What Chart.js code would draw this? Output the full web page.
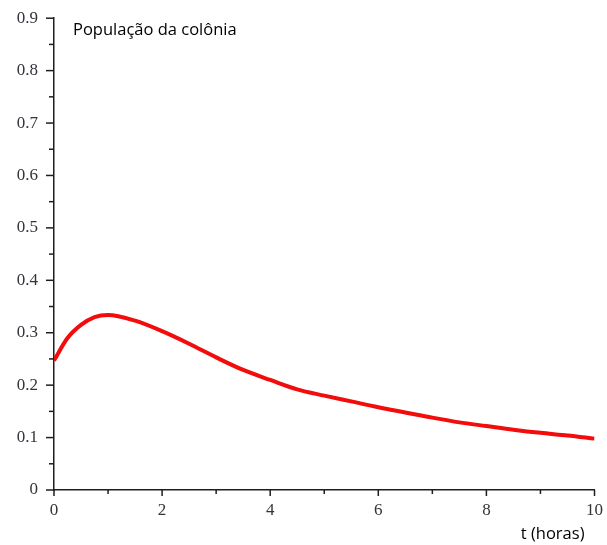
<!DOCTYPE html>
<html>
<head>
<meta charset="utf-8">
<script src="https://cdn.jsdelivr.net/npm/chart.js@4.4.1/dist/chart.umd.min.js"></script>
<style>
  html, body { margin: 0; padding: 0; background: #fff; }
  #wrap { width: 607px; height: 545px; }
</style>
</head>
<body>
<div id="wrap"><canvas id="grafico" width="607" height="545"></canvas></div>
<script>
// dados
const tempos = [0, 0.25, 0.5, 0.75, 1, 1.5, 2, 2.5, 3, 3.5, 4, 4.5, 5, 5.5, 6, 6.5, 7, 7.5, 8, 8.5, 9, 9.5, 10];
const populacao = [0.247, 0.290, 0.315, 0.330, 0.334, 0.323, 0.303, 0.279, 0.253, 0.229, 0.210, 0.192, 0.180, 0.169, 0.158, 0.148, 0.138, 0.129, 0.122, 0.115, 0.109, 0.104, 0.098];
const ticksX = [0, 2, 4, 6, 8, 10];
const ticksY = [0, 0.1, 0.2, 0.3, 0.4, 0.5, 0.6, 0.7, 0.8, 0.9];

const tituloY = 'População da colônia';
const tituloX = 't (horas)';

const corEixo = '#1e1e1e';
const corRotulo = '#33333c';
const fonteRotulo = { family: '"Liberation Serif", "DejaVu Serif", serif', size: 17 };

// tracinhos dos eixos (maiores e menores) + textos soltos
const extras = {
  id: 'extras',
  afterDraw(chart) {
    const ctx = chart.ctx;
    const x = chart.scales.x;
    const y = chart.scales.y;
    const area = chart.chartArea;
    ctx.save();
    ctx.strokeStyle = corEixo;
    ctx.lineWidth = 1.5;
    for (let v = 0; v <= 10; v++) {
      const px = x.getPixelForValue(v);
      ctx.beginPath();
      ctx.moveTo(px, area.bottom);
      ctx.lineTo(px, area.bottom + (v % 2 === 0 ? 6 : 4));
      ctx.stroke();
    }
    for (let i = 0; i <= 18; i++) {
      const py = y.getPixelForValue(i * 0.05);
      ctx.beginPath();
      ctx.moveTo(area.left, py);
      ctx.lineTo(area.left - (i % 2 === 0 ? 8 : 5), py);
      ctx.stroke();
    }
    ctx.fillStyle = '#000';
    ctx.font = '16.5px "Open Sans", sans-serif';
    ctx.textBaseline = 'middle';
    ctx.textAlign = 'left';
    ctx.fillText(tituloY, area.left + 19, 30);
    ctx.textAlign = 'right';
    ctx.fillText(tituloX, area.right - 10, 534);
    ctx.restore();
  }
};

// a grade do Chart.js fica invisível, só reserva o espaço dos tracinhos
const gradeOculta = (comp) => ({ drawOnChartArea: false, drawTicks: true, tickLength: comp, color: 'rgba(0,0,0,0)' });

new Chart(document.getElementById('grafico'), {
  type: 'line',
  data: {
    datasets: [{
      data: tempos.map((t, i) => ({ x: t, y: populacao[i] })),
      borderColor: '#f20c0c',
      borderWidth: 4,
      pointRadius: 0,
      fill: false,
      cubicInterpolationMode: 'monotone'
    }]
  },
  options: {
    responsive: false,
    animation: false,
    layout: { padding: { top: 17, right: 10, left: 0, bottom: 0 } },
    plugins: { legend: { display: false }, tooltip: { enabled: false } },
    scales: {
      x: {
        type: 'linear',
        min: 0,
        max: 10,
        afterFit(scale) { scale.height = 55; },
        afterBuildTicks(scale) { scale.ticks = ticksX.map(v => ({ value: v })); },
        border: { display: true, color: corEixo, width: 1.5 },
        grid: gradeOculta(6),
        ticks: { color: corRotulo, font: fonteRotulo, padding: 4, maxRotation: 0, callback: v => String(v) }
      },
      y: {
        type: 'linear',
        min: 0,
        max: 0.9,
        afterFit(scale) { scale.width = 54; },
        afterBuildTicks(scale) { scale.ticks = ticksY.map(v => ({ value: v })); },
        border: { display: true, color: corEixo, width: 1.5 },
        grid: gradeOculta(8),
        ticks: { color: corRotulo, font: fonteRotulo, padding: 8, callback: v => (v === 0 ? '0' : v.toFixed(1)) }
      }
    }
  },
  plugins: [extras]
});
</script>
</body>
</html>
